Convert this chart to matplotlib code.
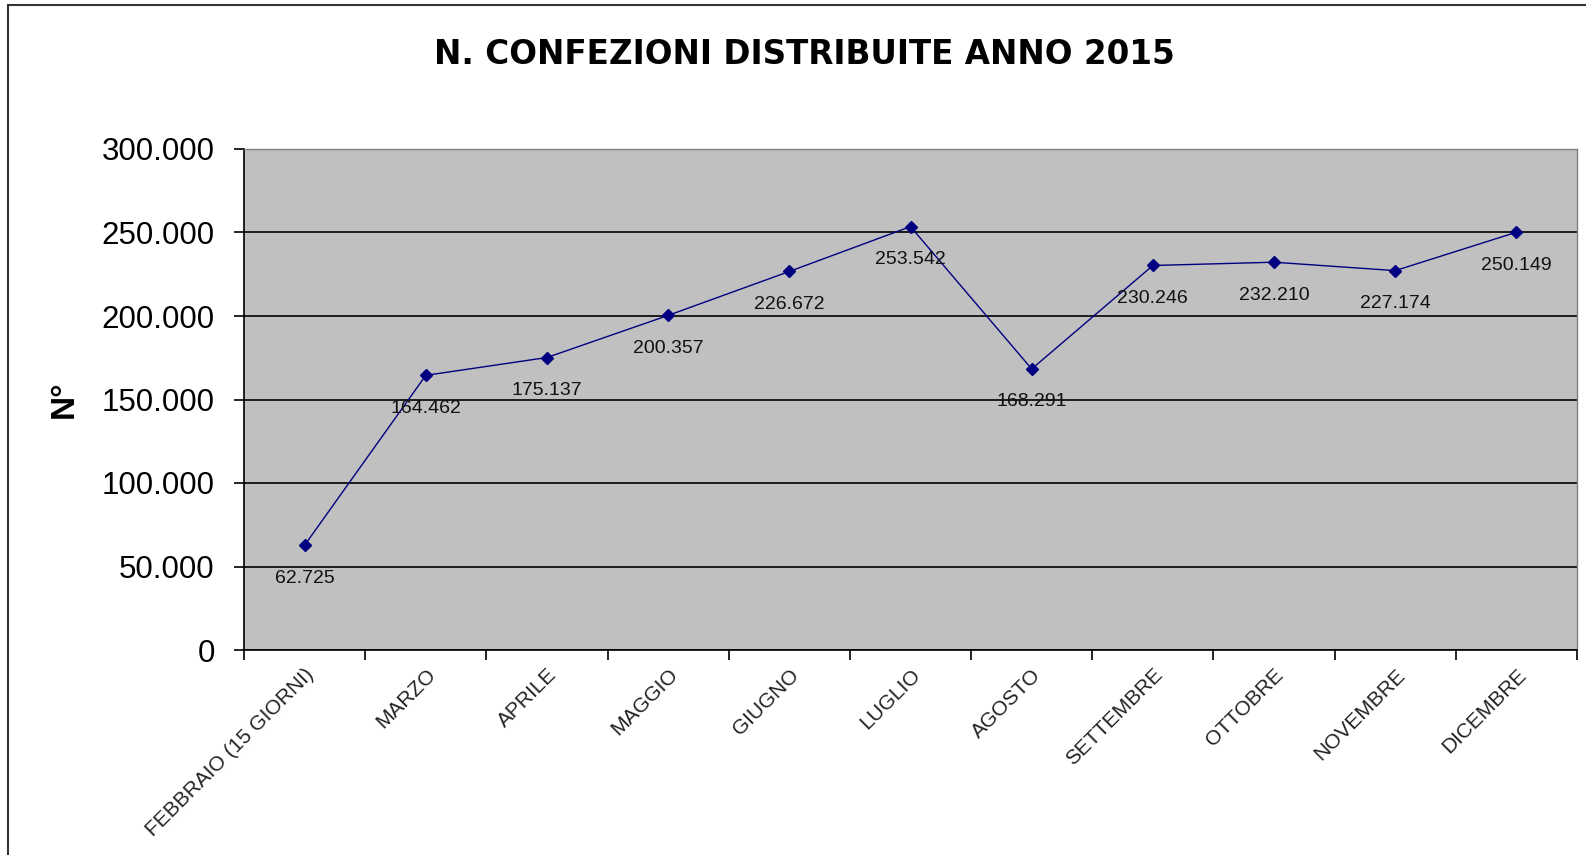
import matplotlib.pyplot as plt
from matplotlib.patches import Rectangle
from matplotlib.ticker import FuncFormatter

mesi = ["FEBBRAIO (15 GIORNI)", "MARZO", "APRILE", "MAGGIO", "GIUGNO", "LUGLIO",
        "AGOSTO", "SETTEMBRE", "OTTOBRE", "NOVEMBRE", "DICEMBRE"]
confezioni = [62725, 164462, 175137, 200357, 226672, 253542,
              168291, 230246, 232210, 227174, 250149]

plt.rcParams['font.family'] = ['Liberation Sans', 'DejaVu Sans']


def fmt_it(v):
    # formato italiano con il punto come separatore delle migliaia
    return f"{int(round(v)):,}".replace(",", ".")


fig = plt.figure(figsize=(15.86, 8.55), dpi=100)
ax = fig.add_axes([244 / 1586, 1 - 650 / 855, (1577 - 244) / 1586, (650 - 149) / 855])
ax.set_facecolor("#c0c0c0")

# cornice esterna del grafico
fig.patches.append(Rectangle((8 / 1586, -0.05), 1.2, 1 - 5 / 855 + 0.05,
                             transform=fig.transFigure, fill=False,
                             edgecolor="#333333", linewidth=1.5))

x = list(range(len(mesi)))
ax.plot(x, confezioni, color="#000080", linewidth=1, marker="D", markersize=6, zorder=3)

for xi, v in zip(x, confezioni):
    ax.annotate(fmt_it(v), (xi, v), xytext=(0, -33), textcoords="offset pixels",
                ha="center", va="center", fontsize=14, color="#111111", zorder=4)

ax.set_ylim(0, 300000)
ax.set_xlim(-0.5, len(mesi) - 0.5)
ax.set_yticks(range(0, 300001, 50000))
ax.yaxis.set_major_formatter(FuncFormatter(lambda v, p: fmt_it(v)))
ax.tick_params(axis="y", labelsize=22.5, length=7, width=1.2, direction="out", pad=14)
ax.grid(axis="y", color="black", linewidth=1.2)
ax.set_axisbelow(True)

ax.set_xticks(x)
ax.set_xticklabels(mesi, rotation=45, ha="right", rotation_mode="anchor",
                   fontsize=15, color="#222222")
ax.tick_params(axis="x", which="major", length=0, pad=11)
ax.set_xticks([i - 0.5 for i in range(len(mesi) + 1)], minor=True)
ax.tick_params(axis="x", which="minor", length=7, width=1.2, direction="out")

for s in ["left", "bottom"]:
    ax.spines[s].set_color("black")
    ax.spines[s].set_linewidth(1.2)
for s in ["top", "right"]:
    ax.spines[s].set_color("#808080")
    ax.spines[s].set_linewidth(1)

ax.set_ylabel("N°", fontsize=24, fontweight="bold", labelpad=16)
fig.text(804 / 1586, 1 - 54 / 855, "N. CONFEZIONI DISTRIBUITE ANNO 2015",
         ha="center", va="center", fontsize=23.5, fontweight="bold",
         family="DejaVu Sans")

fig.savefig("out.png", dpi=100)
